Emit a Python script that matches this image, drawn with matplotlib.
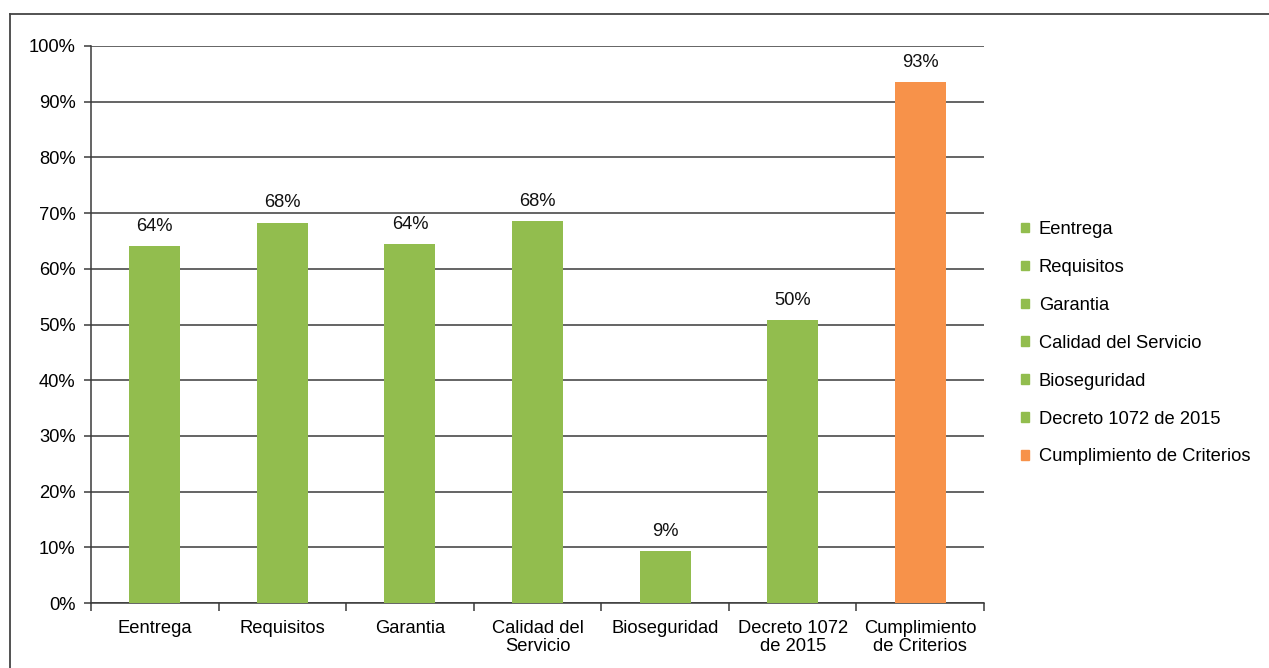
import matplotlib
matplotlib.use("Agg")
import matplotlib.pyplot as plt
from matplotlib.patches import Rectangle
from matplotlib.lines import Line2D
from matplotlib.ticker import FixedLocator, PercentFormatter

categories = ["Eentrega", "Requisitos", "Garantia", "Calidad del\nServicio",
              "Bioseguridad", "Decreto 1072\nde 2015", "Cumplimiento\nde Criterios"]
legend_labels = ["Eentrega", "Requisitos", "Garantia", "Calidad del Servicio",
                 "Bioseguridad", "Decreto 1072 de 2015", "Cumplimiento de Criterios"]
values = [0.641, 0.683, 0.644, 0.686, 0.094, 0.508, 0.935]
value_labels = ["64%", "68%", "64%", "68%", "9%", "50%", "93%"]

green = "#92bd4e"
orange = "#f7924a"
colors = [green] * 6 + [orange]

plt.rcParams['font.family'] = ['Liberation Sans', 'DejaVu Sans']
FS = 13.2

W, H = 1269, 668
fig = plt.figure(figsize=(W / 100, H / 100), dpi=100)
ax = fig.add_axes([91 / W, 1 - 603 / H, (984 - 91) / W, (603 - 46) / H])

x = list(range(len(categories)))
ax.bar(x, values, width=0.40, color=colors, zorder=3)
for xi, v, lab in zip(x, values, value_labels):
    ax.text(xi, v + 0.02, lab, ha="center", va="bottom", fontsize=FS, color="#111111")

ax.set_xlim(-0.5, len(categories) - 0.5)
ax.set_ylim(0, 1.0)
ax.yaxis.set_major_locator(FixedLocator([i / 10 for i in range(11)]))
ax.yaxis.set_major_formatter(PercentFormatter(1.0, decimals=0))
ax.grid(axis="y", color="#3a3a3a", linewidth=1.1, zorder=0)
ax.set_axisbelow(True)

ax.set_xticks(x)
ax.set_xticklabels(categories, fontsize=FS, linespacing=1.1)
ax.tick_params(axis="x", which="major", length=0, pad=12)
ax.set_xticks([i - 0.5 for i in range(len(categories) + 1)], minor=True)
ax.tick_params(axis="x", which="minor", length=6, color="#3a3a3a", width=1.1)
ax.tick_params(axis="y", labelsize=FS, length=5, color="#3a3a3a", width=1.1, pad=6)

for s in ["top", "right"]:
    ax.spines[s].set_visible(False)
for s in ["left", "bottom"]:
    ax.spines[s].set_color("#3a3a3a")
    ax.spines[s].set_linewidth(1.1)

handles = [Rectangle((0, 0), 1, 1, color=c) for c in colors]
ax.legend(handles, legend_labels, loc="upper left",
          bbox_to_anchor=(1021 / W, 1 - 221 / H), bbox_transform=fig.transFigure,
          frameon=False, fontsize=FS, handlelength=0.42, handleheight=0.42,
          handletextpad=0.55, labelspacing=1.14, borderpad=0, borderaxespad=0)

# outer frame of the chart area (top and left edges visible)
fig.add_artist(Line2D([10 / W, 1.0], [1 - 14 / H, 1 - 14 / H], transform=fig.transFigure,
                      color="#444444", linewidth=1.3))
fig.add_artist(Line2D([10 / W, 10 / W], [0, 1 - 14 / H], transform=fig.transFigure,
                      color="#444444", linewidth=1.3))

fig.savefig("out.png", dpi=100, facecolor="white")
